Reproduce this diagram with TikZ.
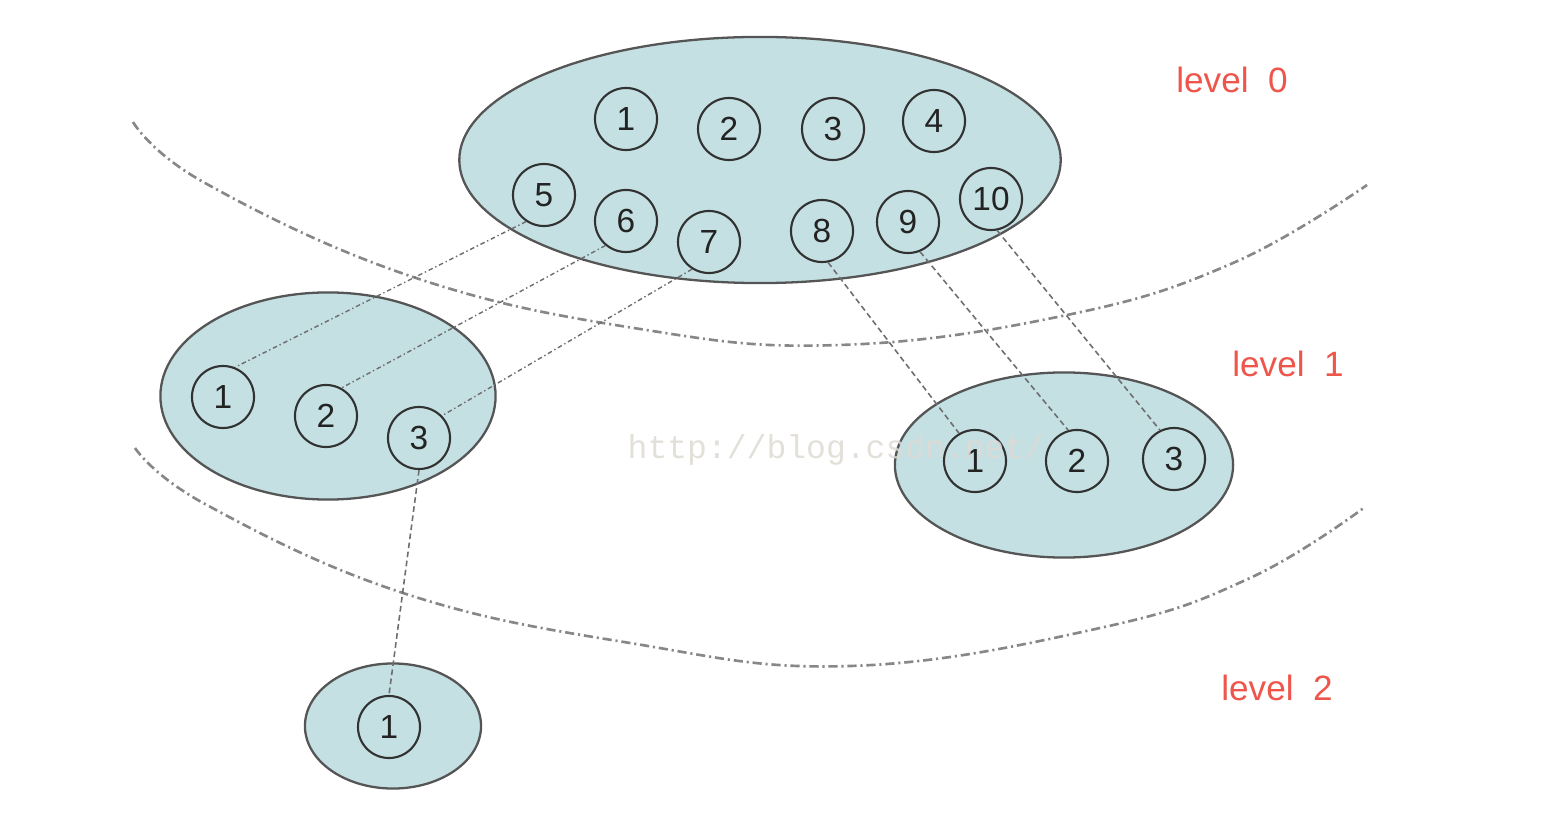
\documentclass[tikz,border=0pt]{standalone}
\usepackage{fontspec}
\setmainfont{Liberation Sans}
\newfontfamily\wmfont{Liberation Mono}
\usetikzlibrary{shapes.geometric}
\definecolor{setfill}{RGB}{196,224,227}
\definecolor{setedge}{RGB}{85,85,85}
\definecolor{elemedge}{RGB}{50,50,50}
\definecolor{elemtext}{RGB}{35,35,35}
\definecolor{levelred}{RGB}{238,85,75}
\definecolor{curvegray}{RGB}{135,135,135}
\definecolor{linkgray}{RGB}{110,110,110}
\definecolor{wmgray}{RGB}{222,218,212}
\tikzset{
  setnode/.style={ellipse, draw=setedge, fill=setfill, line width=0.65pt, inner sep=0pt},
  elem/.style={circle, draw=elemedge, fill=setfill, text=elemtext, line width=0.6pt, minimum size=0.62cm, inner sep=0pt, font=\fontsize{9.5}{10}\selectfont},
  levellabel/.style={text=levelred, font=\fontsize{10}{12}\selectfont, inner sep=0pt},
  boundary/.style={draw=curvegray, line width=0.75pt, dash pattern=on 2.6pt off 1.1pt on 0.6pt off 1.1pt},
  dotlink/.style={draw=linkgray, line width=0.4pt, dash pattern=on 1.3pt off 0.8pt on 0.4pt off 0.8pt},
  dashlink/.style={draw=linkgray, line width=0.45pt, dash pattern=on 1.6pt off 1pt},
}
\begin{document}
\begin{tikzpicture}[x=0.01cm, y=-0.01cm]
\useasboundingbox (0,0) rectangle (1564,840);
% sets
\node[setnode, minimum width=6.01cm, minimum height=2.46cm] (s0) at (760,160) {};
\node[setnode, minimum width=3.35cm, minimum height=2.07cm] (s1) at (328,396) {};
\node[setnode, minimum width=3.38cm, minimum height=1.85cm] (s2) at (1064,465) {};
\node[setnode, minimum width=1.76cm, minimum height=1.25cm] (s3) at (393,726) {};
% level boundaries
\draw[boundary] plot[smooth, tension=0.7] coordinates {(133,122) (205,183) (413,277) (640,329) (840,345) (1067,315) (1233,263) (1367,185)};
\draw[boundary] plot[smooth, tension=0.7] coordinates {(135,448) (205,504) (403,593) (630,643) (850,666) (1100,628) (1250,578) (1365,507)};
% elements level 0
\node[elem] (a1) at (626,119) {1};
\node[elem] (a2) at (729,129) {2};
\node[elem] (a3) at (833,129) {3};
\node[elem] (a4) at (934,121) {4};
\node[elem] (a5) at (544,195) {5};
\node[elem] (a6) at (626,221) {6};
\node[elem] (a7) at (709,242) {7};
\node[elem] (a8) at (822,231) {8};
\node[elem] (a9) at (908,222) {9};
\node[elem] (a10) at (991,199) {10};
% level 1
\node[elem] (b1) at (223,397) {1};
\node[elem] (b2) at (326,416) {2};
\node[elem] (b3) at (419,438) {3};
\node[elem] (c1) at (975,461) {1};
\node[elem] (c2) at (1077,461) {2};
\node[elem] (c3) at (1174,459) {3};
% level 2
\node[elem] (d1) at (389,727) {1};
% links
\draw[dotlink] (a5.236) -- (b1.68);
\draw[dotlink] (a6.230) -- (b2.61);
\draw[dotlink] (a7.238) -- (b3.44);
\draw[dashlink] (a8.281) -- (c1.120);
\draw[dashlink] (a9.292) -- (c2.106);
\draw[dashlink] (a10.281) -- (c3.116);
\draw[dashlink] (b3.270) -- (d1.90);
% level labels
\node[levellabel] (l0) at (1232,80) {level\ \ 0};
\node[levellabel] (l1) at (1288,364) {level\ \ 1};
\node[levellabel] (l2) at (1277,688) {level\ \ 2};
% watermark
\node[text=wmgray, opacity=0.85, font=\wmfont\fontsize{9.4}{10}\selectfont, inner sep=0pt] (wm) at (836,450) {http://blog.csdn.net/};
\end{tikzpicture}
\end{document}
